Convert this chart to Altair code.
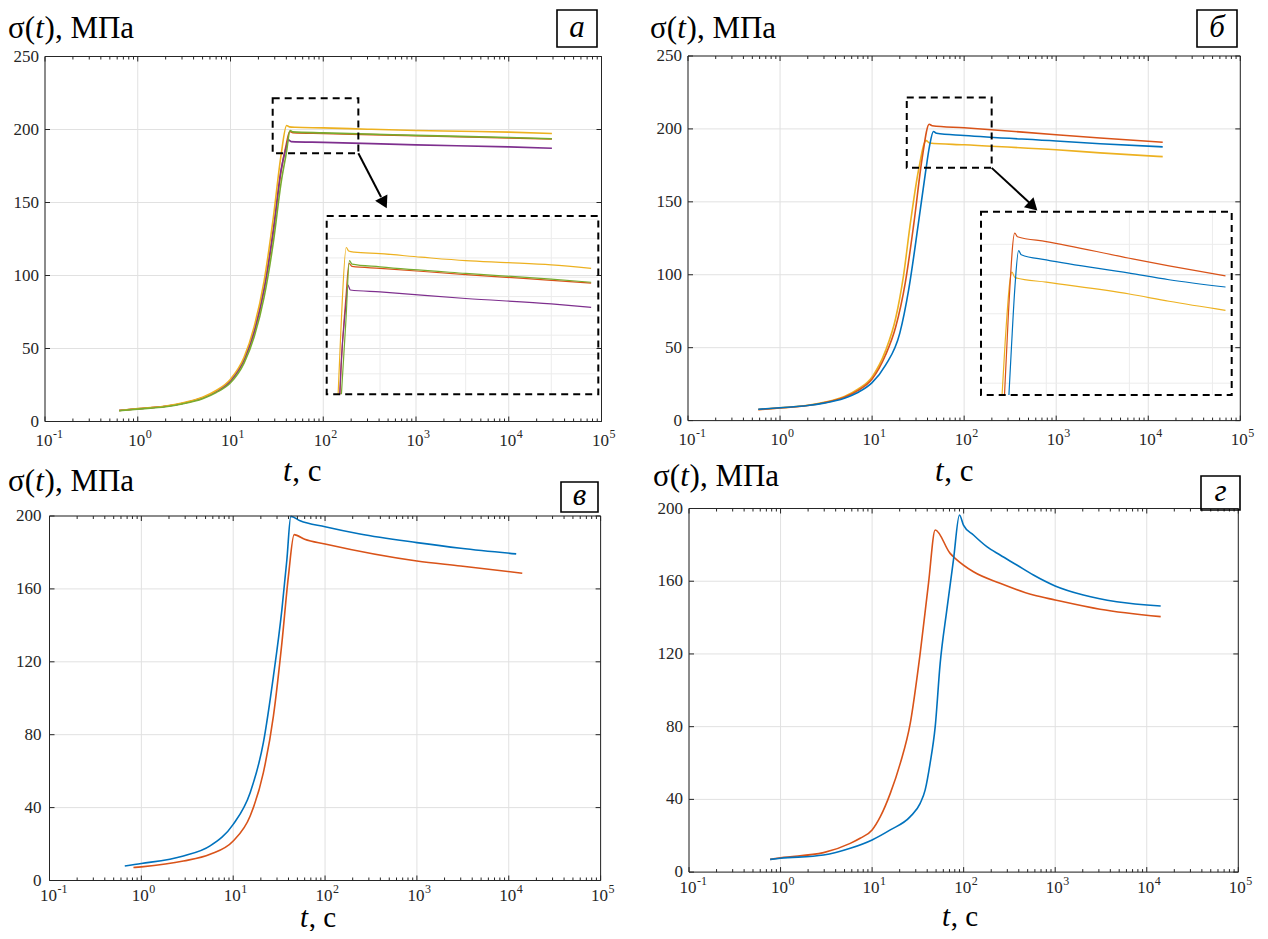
import altair as alt
import pandas as pd
import numpy as np

M = 8
W, H = 1252, 923
FONT = "Liberation Serif, DejaVu Serif, serif"
AX = "#262626"
GRID = "#e1e1e1"
IGRID = "#ececec"
BLUE, RED, YEL, PUR, GRN = "#0072BD", "#D95319", "#EDB120", "#7E2F8E", "#77AC30"

X_MAJOR = [0.1, 1, 10, 100, 1000, 10000, 100000]
X_EXP = ["-1", "0", "1", "2", "3", "4", "5"]
X_MINOR = [k * 10.0 ** d for d in range(-1, 5) for k in range(2, 10)]
Y_TICKS_AB = [0, 50, 100, 150, 200, 250]
Y_TICKS_CD = [0, 40, 80, 120, 160, 200]

a_red_t = [0.63, 1, 2, 3, 5, 7, 10, 14, 18, 23, 29, 35, 40, 43.5, 47, 100, 1000, 10000, 29200]
a_red_s = [7.5, 8.7, 10.4, 12.3, 16.1, 20.5, 27.8, 42, 61, 90, 130, 171, 190, 198.6, 197.8, 197.3, 195.7, 194.2, 193.5]
a_purple_t = [0.63, 1, 2, 3, 5, 7, 10, 14, 18, 23, 29, 35, 40, 42, 45, 100, 1000, 10000, 29200]
a_purple_s = [7.5, 8.7, 10.4, 12.3, 16.2, 20.6, 28, 42.5, 62, 91, 132, 172, 188, 193, 191.7, 191.2, 189.5, 188.1, 187.2]
a_orange_t = [0.63, 1, 2, 3, 5, 7, 10, 14, 18, 23, 29, 35, 40.3, 43, 50, 100, 300, 1000, 3000, 10000, 29200]
a_orange_s = [7.5, 8.8, 10.6, 12.6, 16.6, 21.2, 29, 44, 65, 96, 140, 182, 202.7, 201.8, 201.5, 201.1, 200.2, 199.3, 198.8, 198.2, 197.3]
a_green_t = [0.63, 1, 2, 3, 5, 7, 10, 14, 18, 23, 29, 35, 40, 43.9, 47, 100, 1000, 10000, 29200]
a_green_s = [7.4, 8.5, 10.1, 12.0, 15.6, 19.8, 26.5, 40, 58, 85, 123, 163, 184, 199.3, 198.4, 197.7, 196.0, 194.5, 193.7]

b_yel_t = [0.58, 1, 2, 3, 5, 7, 10, 14, 18, 22, 26, 32, 38.6, 42, 100, 1000, 3000, 14360]
b_yel_s = [7.6, 8.7, 10.5, 12.5, 16.5, 21.5, 30, 48, 70, 100, 135, 172, 192, 190.4, 189.1, 185.7, 183.6, 181]
b_red_t = [0.58, 1, 2, 3, 5, 7, 10, 14, 18, 23, 28.4, 35, 41.7, 45, 100, 1000, 3000, 14360]
b_red_s = [7.5, 8.6, 10.3, 12.2, 16, 20.6, 28.5, 45, 64, 95, 135, 180, 203.2, 202.2, 200.8, 196.0, 193.8, 190.9]
b_blue_t = [0.58, 1, 2, 3, 5, 7, 10, 14, 20, 25, 31.8, 38, 42, 46.4, 50, 100, 1000, 3000, 14360]
b_blue_s = [7.8, 8.8, 10.3, 12, 15.4, 19.3, 26, 38, 60, 90, 135, 170, 188, 198.2, 197.0, 195.5, 191.7, 189.8, 187.7]

c_red_t = [0.82, 1, 2.87, 5.6, 10, 15.3, 21.3, 27.4, 33.9, 39.9, 46.1, 60, 100, 1000, 3000, 14030]
c_red_s = [7.1, 7.5, 10.7, 14.4, 21.7, 35.4, 59.2, 90.2, 130.4, 166.9, 189.8, 187.2, 184.6, 175.3, 172.6, 168.6]
c_blue_t = [0.66, 1, 2.87, 5.6, 10, 15.3, 21.3, 27.4, 33.9, 38.4, 42.4, 53.5, 100, 240, 1000, 3000, 12050]
c_blue_s = [8.0, 9.3, 13.5, 19, 30.8, 48.2, 75.6, 112, 148.6, 176, 199.8, 197.4, 194.1, 190.1, 185.4, 182.3, 179.2]

d_red_t = [0.77, 1, 2.95, 5.77, 7.4, 10, 12.3, 15.8, 20.3, 26.1, 33.5, 41.3, 48.9,
           71.2, 80.8, 128, 250, 578, 998, 3090, 14200]
d_red_s = [7.0, 7.9, 10.7, 15.8, 18.6, 23.2, 30.5, 43.3, 59.8, 81.8, 120.3, 158.8, 188.2,
           175.3, 172.6, 165.2, 158.9, 152.4, 149.7, 144.6, 140.5]
d_blue_t = [0.77, 1, 2.95, 5.77, 10, 15.8, 26.1, 33.5, 38, 43, 48.9, 55.4, 65.5, 77.4, 90,
            99.5, 128, 179, 250, 381, 578, 998, 2030, 4700, 14200]
d_blue_s = [7.0, 7.6, 9.4, 13.1, 17.7, 23.2, 30.5, 37.8, 45.2, 59.8, 80, 114.8, 144.2, 171.7, 196.4,
            190.9, 185.4, 179.0, 174.4, 168.9, 163.4, 157.4, 152.4, 148.7, 146.4]

ia_xdom = [10 ** 1.377, 10 ** 4.549]
ia_ydom = [164.7, 210.85]
ia_ygrid = [170, 175, 180, 185, 190, 195, 200, 205, 210]
ib_xdom = [10 ** 1.214, 10 ** 4.232]
ib_ydom = [156.6, 209.4]
ib_ygrid = [160, 180, 200]
inset_xgrid = [100, 1000, 10000]

a_src = dict(t0=28.5, t1=239, s0=183.7, s1=221.4)
b_src = dict(t0=23.8, t1=199, s0=173.3, s1=221.6)

SER_A = [("red", RED, a_red_t, a_red_s), ("purple", PUR, a_purple_t, a_purple_s),
         ("orange", YEL, a_orange_t, a_orange_s), ("green", GRN, a_green_t, a_green_s)]
SER_B = [("yel", YEL, b_yel_t, b_yel_s), ("red", RED, b_red_t, b_red_s), ("blue", BLUE, b_blue_t, b_blue_s)]
SER_C = [("red", RED, c_red_t, c_red_s), ("blue", BLUE, c_blue_t, c_blue_s)]
SER_D = [("red", RED, d_red_t, d_red_s), ("blue", BLUE, d_blue_t, d_blue_s)]


def series_df(series):
    rows = []
    for name, col, t, s in series:
        for i, (tt, ss) in enumerate(zip(t, s)):
            rows.append(dict(series=name, color=col, t=tt, s=ss, i=i))
    return pd.DataFrame(rows)


def clip_bottom(t, s, smin):
    ot, os_ = [], []
    for i in range(len(s)):
        if s[i] >= smin:
            if not ot and i > 0:
                f = (smin - s[i - 1]) / (s[i] - s[i - 1])
                lt = np.log10(t[i - 1]) + f * (np.log10(t[i]) - np.log10(t[i - 1]))
                ot.append(10 ** lt)
                os_.append(smin)
            ot.append(t[i])
            os_.append(s[i])
    return ot, os_


ONE = pd.DataFrame({"k": [0]})


def build_panel(P):
    xs = alt.Scale(type="log", domain=[0.1, 1e5], range=[P["x0"] - M, P["x1"] - M], nice=False)
    ys = alt.Scale(domain=[0, P["ymax"]], range=[P["yb"] - M, P["yt"] - M], nice=False, zero=False)
    ymax = P["ymax"]
    Xf = lambda f: alt.X(f, scale=xs, axis=None)
    Yf = lambda f: alt.Y(f, scale=ys, axis=None)
    XD = lambda d: alt.XDatum(d, scale=xs, axis=None)
    YD = lambda d: alt.YDatum(d, scale=ys, axis=None)
    xmaj = pd.DataFrame({"v": X_MAJOR, "base": ["10"] * len(X_MAJOR), "exp": X_EXP})
    xmin_ = pd.DataFrame({"v": X_MINOR})
    yt = pd.DataFrame({"v": P["yticks"], "lab": [str(v) for v in P["yticks"]]})
    L = []
    L.append(alt.Chart(xmaj).mark_rule(color=GRID, strokeWidth=1).encode(x=Xf("v:Q"), y=YD(0), y2=alt.Y2Datum(ymax)))
    L.append(alt.Chart(yt).mark_rule(color=GRID, strokeWidth=1).encode(y=Yf("v:Q"), x=XD(0.1), x2=alt.X2Datum(1e5)))
    L.append(alt.Chart(series_df(P["series"])).mark_line(strokeWidth=1.6, interpolate="monotone").encode(
        x=Xf("t:Q"), y=Yf("s:Q"), color=alt.Color("color:N", scale=None), detail="series:N", order="i:Q"))
    L.append(alt.Chart(ONE).mark_rect(filled=False, stroke=AX, strokeWidth=1).encode(
        x=XD(0.1), x2=alt.X2Datum(1e5), y=YD(0), y2=alt.Y2Datum(ymax)))
    for data, ln in ((xmaj, 5), (xmin_, 3)):
        L.append(alt.Chart(data).mark_rule(color=AX, y2Offset=-ln).encode(x=Xf("v:Q"), y=YD(0), y2=alt.Y2Datum(0)))
        L.append(alt.Chart(data).mark_rule(color=AX, y2Offset=ln).encode(x=Xf("v:Q"), y=YD(ymax), y2=alt.Y2Datum(ymax)))
    L.append(alt.Chart(yt).mark_rule(color=AX, x2Offset=5).encode(y=Yf("v:Q"), x=XD(0.1), x2=alt.X2Datum(0.1)))
    L.append(alt.Chart(yt).mark_rule(color=AX, x2Offset=-5).encode(y=Yf("v:Q"), x=XD(1e5), x2=alt.X2Datum(1e5)))
    ldy = P.get("ldy", 24)
    L.append(alt.Chart(xmaj).mark_text(font=FONT, fontSize=17, color=AX, align="center", baseline="alphabetic",
                                      dx=-1, dy=ldy).encode(x=Xf("v:Q"), y=YD(0), text="base:N"))
    L.append(alt.Chart(xmaj).mark_text(font=FONT, fontSize=12, color=AX, align="left", baseline="alphabetic",
                                      dx=8, dy=ldy - 8).encode(x=Xf("v:Q"), y=YD(0), text="exp:N"))
    L.append(alt.Chart(yt).mark_text(font=FONT, fontSize=17, color=AX, align="right", baseline="middle",
                                    dx=P.get("ydx", -6)).encode(y=Yf("v:Q"), x=XD(0.1), text="lab:N"))
    tx, ty = P["title"]
    F = 31
    dx0 = tx - P["x0"]
    dy0 = ty - P["yt"]
    w1 = 0.88 * F
    w2 = 0.30 * F
    for txt, dxx, style in (("σ(", dx0, "normal"), ("t", dx0 + w1, "italic"), ("), МПа", dx0 + w1 + w2, "normal")):
        L.append(alt.Chart(ONE).mark_text(font=FONT, fontSize=F, fontStyle=style, color="black", align="left",
                                         baseline="alphabetic", dx=dxx, dy=dy0, text=txt).encode(x=XD(0.1), y=YD(ymax)))
    xx, xy = P["xtitle"]
    p100 = P["x0"] + (P["x1"] - P["x0"]) * 0.5
    FX = P.get("fx", 31)
    for txt, dxx, style in (("t", xx - p100, "italic"), (", с", xx - p100 + 0.30 * FX, "normal")):
        L.append(alt.Chart(ONE).mark_text(font=FONT, fontSize=FX, fontStyle=style, color="black", align="left",
                                         baseline="alphabetic", dx=dxx, dy=xy - P["yb"], text=txt).encode(x=XD(100), y=YD(0)))
    bx0, by0, bx1, by1 = P["box"]
    L.append(alt.Chart(ONE).mark_rect(filled=False, stroke="black", strokeWidth=1.6,
                                      xOffset=bx0 - P["x1"], x2Offset=bx1 - P["x1"],
                                      yOffset=by0 - P["yt"], y2Offset=by1 - P["yt"]).encode(
        x=XD(1e5), x2=alt.X2Datum(1e5), y=YD(ymax), y2=alt.Y2Datum(ymax)))
    L.append(alt.Chart(ONE).mark_text(font=FONT, fontSize=31, fontStyle="italic", color="black", align="center",
                                      baseline="middle", dx=(bx0 + bx1) / 2 - P["x1"], dy=(by0 + by1) / 2 - P["yt"] - 1,
                                      text=P["label"]).encode(x=XD(1e5), y=YD(ymax)))
    if "src" in P:
        S = P["src"]
        L.append(alt.Chart(ONE).mark_rect(filled=False, stroke="black", strokeWidth=2, strokeDash=[7, 5]).encode(
            x=XD(S["t0"]), x2=alt.X2Datum(S["t1"]), y=YD(S["s0"]), y2=alt.Y2Datum(S["s1"])))
        A = P["arrow"]
        L.append(alt.Chart(ONE).mark_rule(color="black", strokeWidth=2).encode(
            x=XD(S["t1"]), x2=alt.X2Datum(A["t_end"]), y=YD(S["s0"]), y2=alt.Y2Datum(A["s_end"])))
        L.append(alt.Chart(ONE).mark_point(shape="triangle-up", filled=True, color="black", opacity=1,
                                           size=190, angle=A["angle"]).encode(x=XD(A["t_head"]), y=YD(A["s_head"])))
    return alt.layer(*L)


def build_inset(I):
    xs = alt.Scale(type="log", domain=I["xdom"], range=[I["x0"] - M, I["x1"] - M], nice=False)
    ys = alt.Scale(domain=I["ydom"], range=[I["yb"] - M, I["yt"] - M], nice=False, zero=False)
    Xf = lambda f: alt.X(f, scale=xs, axis=None)
    Yf = lambda f: alt.Y(f, scale=ys, axis=None)
    XD = lambda d: alt.XDatum(d, scale=xs, axis=None)
    YD = lambda d: alt.YDatum(d, scale=ys, axis=None)
    xg = pd.DataFrame({"v": inset_xgrid})
    yg = pd.DataFrame({"v": I["ygrid"]})
    clipped = []
    for name, col, t, s in I["series"]:
        ct, cs = clip_bottom(t, s, I["ydom"][0])
        clipped.append((name, col, ct, cs))
    L = [
        alt.Chart(xg).mark_rule(color=IGRID, strokeWidth=1).encode(
            x=Xf("v:Q"), y=YD(I["ydom"][0]), y2=alt.Y2Datum(I["ydom"][1])),
        alt.Chart(yg).mark_rule(color=IGRID, strokeWidth=1).encode(
            y=Yf("v:Q"), x=XD(I["xdom"][0]), x2=alt.X2Datum(I["xdom"][1])),
        alt.Chart(series_df(clipped)).mark_line(strokeWidth=1.2, interpolate="monotone").encode(
            x=Xf("t:Q"), y=Yf("s:Q"), color=alt.Color("color:N", scale=None), detail="series:N", order="i:Q"),
        alt.Chart(ONE).mark_rect(filled=False, stroke="black", strokeWidth=2, strokeDash=[7, 5]).encode(
            x=XD(I["xdom"][0]), x2=alt.X2Datum(I["xdom"][1]), y=YD(I["ydom"][0]), y2=alt.Y2Datum(I["ydom"][1])),
    ]
    return alt.layer(*L)


PANELS = [
    dict(x0=45, x1=601.5, yb=421.5, yt=56.5, ymax=250, yticks=Y_TICKS_AB, series=SER_A, label="а",
         box=(557, 10, 597, 47), title=(8, 38), xtitle=(283, 481), src=a_src,
         arrow=dict(t_end=420, s_end=153.8, t_head=452, s_head=149.7, angle=152.8)),
    dict(x0=688, x1=1240.3, yb=420.6, yt=56, ymax=250, yticks=Y_TICKS_AB, series=SER_B, label="б",
         box=(1197, 10, 1237, 47), title=(650, 38), xtitle=(935, 481), src=b_src,
         arrow=dict(t_end=519, s_end=149, t_head=560, s_head=146.9, angle=133.7)),
    dict(x0=49.5, x1=600.6, yb=880.5, yt=516, ymax=200, yticks=Y_TICKS_CD, series=SER_C, label="в",
         box=(561, 482, 598, 512), title=(8, 491), xtitle=(300, 927), ldy=20, fx=29, ydx=-8),
    dict(x0=689, x1=1238.3, yb=872.1, yt=508.5, ymax=200, yticks=Y_TICKS_CD, series=SER_D, label="г",
         box=(1201, 476, 1240, 510), title=(653, 486), xtitle=(942, 926), ldy=21, fx=29),
]

INSETS = [
    dict(xdom=ia_xdom, ydom=ia_ydom, x0=326.7, x1=598.3, yb=394.3, yt=216, ygrid=ia_ygrid, series=SER_A),
    dict(xdom=ib_xdom, ydom=ib_ydom, x0=981, x1=1231.7, yb=395, yt=211.7, ygrid=ib_ygrid, series=SER_B),
]

layers = [build_panel(P) for P in PANELS] + [build_inset(I) for I in INSETS]
chart = alt.layer(*layers).resolve_scale(x="independent", y="independent").properties(
    width=W, height=H, autosize=alt.AutoSizeParams(type="none"), padding=0, background="white"
).configure_view(stroke=None)

chart.save("out.html", embed_options={"renderer": "svg", "actions": False})
